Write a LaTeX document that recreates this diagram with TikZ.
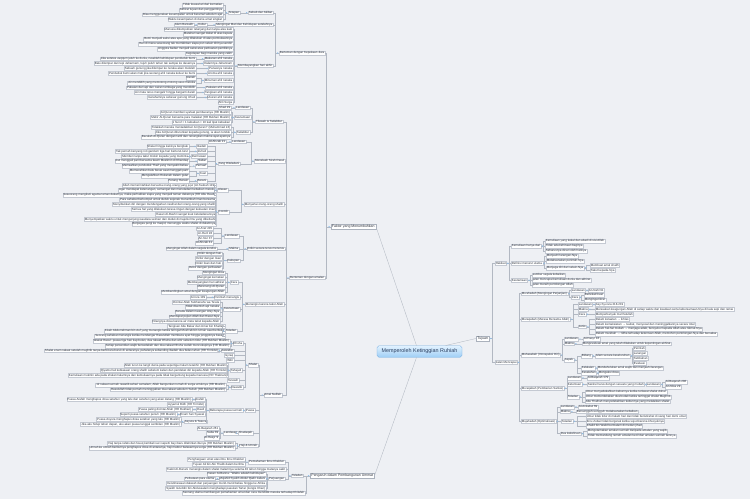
\documentclass[tikz,border=0pt]{standalone}
\usepackage{fontspec}
\setmainfont{Liberation Sans}
\definecolor{bgc}{RGB}{238,240,244}
\definecolor{nodeb}{RGB}{196,201,210}
\definecolor{nodeb2}{RGB}{170,177,188}
\definecolor{conc}{RGB}{178,184,194}
\definecolor{txt}{RGB}{45,50,60}
\definecolor{mkc}{RGB}{140,190,235}
\definecolor{rootb}{RGB}{120,175,225}
\definecolor{roott}{RGB}{225,242,255}
\definecolor{rootbot}{RGB}{158,206,245}
\definecolor{roottxt}{RGB}{40,60,95}
\newcommand\kl[3][3]{\foreach \nn in {#3}{\draw[con] (#2.west) -- ++(-#1,0) |- (\nn.east);}\fill[mk] ([xshift=-1.4pt]#2.west) circle (0.7pt);}
\newcommand\kr[3][3]{\foreach \nn in {#3}{\draw[con] (#2.east) -- ++(#1,0) |- (\nn.west);}\fill[mk] ([xshift=1.4pt]#2.east) circle (0.7pt);}
\begin{document}
\begin{tikzpicture}[x=1pt,y=-1pt,
 lf/.style={draw=nodeb,line width=0.25pt,fill=white,text=txt,font=\fontsize{2.95}{3.2}\selectfont,inner xsep=0.7pt,inner ysep=0.4pt,text height=2.3pt,text depth=0.7pt},
 nl/.style={lf,anchor=east}, nr/.style={lf,anchor=west},
 b1/.style={lf,draw=nodeb2,font=\fontsize{3.5}{4}\selectfont,text height=2.7pt,text depth=0.8pt,inner xsep=1.3pt,inner ysep=0.9pt},
 con/.style={draw=conc,line width=0.35pt},
 mk/.style={fill=mkc},
 rootn/.style={draw=rootb,line width=0.4pt,rounded corners=1.8pt,top color=roott,bottom color=rootbot,text=roottxt,font=\fontsize{5.4}{6}\selectfont,minimum width=85pt,minimum height=11.5pt,inner sep=0pt}]
\fill[bgc] (0,0) rectangle (750,499);
\useasboundingbox (0,0) rectangle (750,499);

\node[rootn] (root) at (419.5,351.5) {Memperoleh Ketinggian Ruhiah};

% ---------------- Faktor yang Menumbuhkan
\node[b1,anchor=east] (fk) at (376,226.7) {Faktor yang Menumbuhkan};
\node[nl] (kj) at (325,53) {Berteman dengan Kepekaan Jiwa};
\node[nl] (ba) at (325,277.7) {Berteman dengan amalan};

\node[nl] (sb) at (273,12.7) {Sebab dan Akibat};
\node[nl] (tp) at (240,12.7) {Tetapan};
\node[nl] (t1) at (223,5) {Tidak kuasa lari dari kematian};
\node[nl] (t2) at (223,9.8) {Akhirat tujuan dan penggantinya};
\node[nl] (t3) at (223,14.6) {Bisa menggunakan kesempatan untuk beramal sebelum ajal};
\node[nl] (t4) at (223,19.4) {Waktu kesempatan di dunia amat singkat};
\node[nl] (mk) at (273,24.7) {Mengingat Mati dan Kehidupan setelahnya};
\node[nl] (ku) at (207,24.7) {Kubur};
\node[nl] (ab) at (194,24.7) {Alam Barzakh};
\node[nl] (mh) at (273,65.7) {Membayangkan hari akhir};
\node[nl] (h0) at (233,29.3) {Manusia dikumpulkan telanjang dan tanpa alas kaki};
\node[nl] (h1) at (233,34) {Matahari sangat dekat di atas kepala};
\node[nl] (h2) at (233,39) {Bumi menjadi saksi atas apa yang dilakukan di atas permukaannya};
\node[nl] (h3) at (233,44) {Hari di mana seseorang tak memikirkan siapa pun selain dirinya sendiri};
\node[nl] (h4) at (233,49) {Anggota badan menjadi saksi atas perbuatan pemiliknya};
\node[nl] (h5) at (233,53.7) {Kegelapan bagi mereka yang zalim};
\node[nl] (g1) at (233,58.7) {Makanan ahli neraka};
\node[nl] (g1a) at (196,58.7) {Jika setetes zaqqum jatuh ke dunia, rusaklah kehidupan penduduk bumi};
\node[nl] (g2) at (233,63.5) {Dalamnya Jahannam};
\node[nl] (g2a) at (196,63.5) {Batu dilempar dari tepi Jahannam, tujuh puluh tahun tak sampai ke dasarnya};
\node[nl] (g3) at (233,68.5) {Panasnya neraka};
\node[nl] (g3a) at (196,68.5) {Sebuah gunung jika dilempar ke neraka akan meleleh};
\node[nl] (g4) at (233,73.3) {Aroma ahli neraka};
\node[nl] (g4a) at (196,73.3) {Penduduk bumi akan mati jika seorang ahli neraka keluar ke bumi};
\node[nl] (g5) at (233,80.5) {Minuman ahli neraka};
\node[nl] (g5a) at (196,78.1) {Nanah};
\node[nl] (g5b) at (196,82.9) {Air mendidih yang memotong-motong usus mereka};
\node[nl] (g6) at (233,87.6) {Pakaian ahli neraka};
\node[nl] (g6a) at (196,87.6) {Pakaian dari api dan cairan tembaga yang mendidih};
\node[nl] (g7) at (233,92.4) {Tangisan ahli neraka};
\node[nl] (g7a) at (196,92.4) {Air mata terus mengalir hingga berganti darah};
\node[nl] (g8) at (233,97.4) {Ukuran ahli neraka};
\node[nl] (g8a) at (196,97.4) {Gerahamnya sebesar gunung Uhud};
\node[nl] (h6) at (233,102.3) {Ahli Surga};

\node[nl] (tf) at (283,121.7) {Tilawah \& Tadabbur};
\node[nl] (tl) at (250,107.7) {Landasan};
\node[nl] (tl1) at (231,107.7) {Shad 29};
\node[nl] (tk) at (251,117.5) {Keutamaan};
\node[nl] (tk1) at (231,112.5) {Al-Quran memberi syafaat pembacanya (HR Muslim)};
\node[nl] (tk2) at (231,117.4) {Mahir Al-Quran bersama para malaikat (HR Bukhari Muslim)};
\node[nl] (tk3) at (231,122.3) {1 huruf = 1 kebaikan = 10 kali lipat kebaikan};
\node[nl] (tb) at (250,132.2) {Tadabbur};
\node[nl] (tb1) at (231,127.3) {Tidakkah mereka mentadabburi Al-Quran? (Muhammad 24)};
\node[nl] (tb2) at (231,132.2) {Jika Al-Quran diturunkan kepada gunung, ia akan tunduk};
\node[nl] (tb3) at (231,137.1) {Bacalah Al-Quran dengan tartil dan renungkan makna ayat-ayatnya};

\node[nl] (ms) at (285,161) {Menelaah Sirah Rasul};
\node[nl] (ml) at (246,141.7) {Landasan};
\node[nl] (ml1) at (226,141.7) {Al-Ahzab 21};
\node[nl] (mp) at (240,163.7) {Yang Diteladani};
\node[nl] (p1) at (207,146.4) {Ibadah};
\node[nl] (p1a) at (189,146.4) {Shalat hingga kakinya bengkak};
\node[nl] (p2) at (207,151.3) {Zuhud};
\node[nl] (p2a) at (189,151.3) {Tak pernah kenyang roti gandum tiga hari berturut-turut};
\node[nl] (p3) at (207,156.2) {Dermawan};
\node[nl] (p3a) at (189,156.2) {Memberi tanpa takut miskin kepada yang meminta};
\node[nl] (p4) at (207,161.1) {Sabar};
\node[nl] (p4a) at (189,161.1) {Ikut menggali parit bersama kaum Muslimin di Khandaq};
\node[nl] (p5) at (207,166) {Pemaaf};
\node[nl] (p5a) at (189,166) {Memaafkan penduduk Thaif yang menyakiti beliau};
\node[nl] (p6) at (207,173.4) {Kuat};
\node[nl] (p6a) at (189,171) {Memecahkan batu besar saat menggali parit};
\node[nl] (p6b) at (189,175.9) {Mengalahkan Rukanah dalam gulat};
\node[nl] (p7) at (207,180.8) {Berani};
\node[nl] (p7a) at (189,180.8) {Perang Hunain};

\node[nl] (mo) at (284,204.3) {Menyertai orang-orang shalih};
\node[nl] (al) at (228,190) {Alasan};
\node[nl] (al1) at (216,185.3) {Allah memerintahkan bersama orang-orang yang jujur (At-Taubah 119)};
\node[nl] (al2) at (216,190.1) {Agar mendapat ketenangan, semangat dan meneladani kebaikan mereka};
\node[nl] (al3) at (216,194.9) {Seseorang mengikuti agama teman dekatnya, maka perhatikan siapa yang menjadi teman dekatnya (HR Abu Daud)};
\node[nl] (ct) at (229,211.8) {Contoh};
\node[nl] (ct1) at (216,199.7) {Para sahabat berkumpul untuk duduk sejenak menambah iman bersama};
\node[nl] (ct2) at (216,204.5) {Menyibukkan diri dengan mendengarkan nasihat dari orang-orang yang shalih};
\node[nl] (ct3) at (216,209.4) {Semua hal yang dilakukan terasa ringan dengan kekuatan iman};
\node[nl] (ct4) at (216,214.3) {Hasan Al-Bashri sangat kuat keteladanannya};
\node[nl] (ct5) at (216,219.2) {Menyempatkan waktu untuk mengunjungi saudara seiman dan duduk di majelis ilmu yang diberkahi};
\node[nl] (ct6) at (216,224.1) {Bergegas pergi ke masjid, menunggu waktu shalat di dalamnya};

\node[nl] (ck) at (285,248.7) {Dzikir secara terus menerus};
\node[nl] (cl) at (239,235.8) {Landasan};
\node[nl] (cl1) at (213,228.5) {Al-A'raf 205};
\node[nl] (cl2) at (213,233.3) {Ar-Ra'd 28};
\node[nl] (cl3) at (213,238.2) {An-Nur 37};
\node[nl] (cl4) at (213,243.1) {Al-Ahzab 41};
\node[nl] (cm) at (239,248.7) {Makna};
\node[nl] (cm1) at (217,248.7) {Mengingat Allah dalam segala kondisi};
\node[nl] (cc) at (240,260.6) {Cakupan};
\node[nl] (cc1) at (222,253.6) {Dzikir dengan hati};
\node[nl] (cc2) at (222,258.4) {Dzikir dengan lisan};
\node[nl] (cc3) at (222,263.2) {Dzikir lisan dan hati};
\node[nl] (cc4) at (222,268) {Dzikir dengan perbuatan};

\node[nl] (mt) at (284,304.3) {Menangis karena takut Allah};
\node[nl] (pr) at (238,282.3) {Cara};
\node[nl] (pr1) at (225,272.7) {Mengingat dosa};
\node[nl] (pr2) at (225,277.5) {Mengingat kematian};
\node[nl] (pr3) at (225,282.3) {Membayangkan hari akhirat};
\node[nl] (pr4) at (225,287.1) {Merenungi Al-Quran};
\node[nl] (pr5) at (225,292) {Membandingkan amal dengan keagungan Allah};
\node[nl] (pn) at (240,297.2) {Perintah menangis};
\node[nl] (pn1) at (206,297.2) {Al-Isra 109};
\node[nl] (pk) at (240,308.8) {Keutamaan};
\node[nl] (pk1) at (220,302.2) {Dicintai Allah Subhanahu wa Ta'ala};
\node[nl] (pk2) at (220,307) {Tidak disentuh api neraka};
\node[nl] (pk3) at (220,311.8) {Berada dalam naungan Arsy-Nya};
\node[nl] (pk4) at (220,316.6) {Mendapat pujian Allah dan Rasul-Nya};
\node[nl] (pk5) at (220,321.4) {Hilangnya dosa karena air mata takut kepada Allah};
\node[nl] (pt) at (237,331) {Teladan};
\node[nl] (pt1) at (225,326.2) {Tangisan Abu Bakar dan Umar bin Khattab};
\node[nl] (pt2) at (225,331) {Kisah Abdurrahman bin Auf yang menangis ketika teringat Mush'ab bin Umair saat berbuka};
\node[nl] (pt3) at (225,335.9) {Seorang sahabat menangis ketika mendengar Rasulullah membaca ayat hingga jenggotnya basah};

\node[nl] (an) at (282,395) {Amal Nafilah};
\node[nl] (sh) at (258,365) {Shalat};
\node[nl] (dh) at (243,343.4) {Dhuha};
\node[nl] (dh1) at (230,341) {Wasiat Rasul: puasa tiga hari tiap bulan, dua rakaat Dhuha dan witir sebelum tidur (HR Bukhari Muslim)};
\node[nl] (dh2) at (230,345.8) {Setiap persendian wajib bersedekah dan dua rakaat Dhuha sudah mencukupinya (HR Muslim)};
\node[nl] (aw) at (234,350.7) {Awwabin};
\node[nl] (aw1) at (219,350.7) {Shalat enam rakaat setelah maghrib tanpa berbicara buruk di antaranya, pahalanya sebanding ibadah dua belas tahun (HR Tirmidzi)};
\node[nl] (is) at (234,355.5) {Isyraq};
\node[nl] (wt) at (234,360.3) {Witir};
\node[nl] (th) at (242,370.3) {Tahajud};
\node[nl] (th1) at (228,365.4) {Allah turun ke langit dunia pada sepertiga malam terakhir (HR Bukhari Muslim)};
\node[nl] (th2) at (228,370.3) {Qiyamul lail kebiasaan orang shalih sebelum kalian dan pendekat diri kepada Allah (HR Tirmidzi)};
\node[nl] (th3) at (228,375.2) {Kemuliaan mukmin ada pada shalat malamnya dan kemuliaannya pada tidak bergantung kepada manusia (HR Thabrani)};
\node[nl] (tr) at (239,380.2) {Tarawih};
\node[nl] (rw) at (243,387.2) {Rawatib};
\node[nl] (rw1) at (226,384.8) {12 rakaat sunnah rawatib sehari semalam, Allah bangunkan rumah di surga untuknya (HR Muslim)};
\node[nl] (rw2) at (226,389.6) {Rasulullah tidak pernah meninggalkan dua rakaat sebelum Subuh (HR Bukhari Muslim)};
\node[nl] (pu) at (255,410.5) {Puasa};
\node[nl] (bp) at (243,410.5) {Beberapa puasa sunnah};
\node[nl] (af) at (205,399.5) {Arafah};
\node[nl] (af1) at (192,399.5) {Puasa Arafah menghapus dosa setahun yang lalu dan setahun yang akan datang (HR Muslim)};
\node[nl] (tg) at (205,404.4) {Ayyamul Bidh (HR Tirmidzi)};
\node[nl] (dd) at (205,409.3) {Daud};
\node[nl] (dd1) at (192,409.3) {Puasa paling dicintai Allah (HR Bukhari)};
\node[nl] (sy) at (205,414.3) {Enam hari Syawal};
\node[nl] (sy1) at (177,414.3) {Seperti puasa setahun penuh (HR Muslim)};
\node[nl] (as) at (207,421.7) {Asyura \& Tasu'a};
\node[nl] (as1) at (181,419.3) {Puasa Asyura menghapus dosa setahun yang lalu (HR Muslim)};
\node[nl] (as2) at (181,424.2) {Jika aku hidup tahun depan, aku akan puasa tanggal sembilan (HR Muslim)};
\node[nl] (sd) at (253,433) {Shadaqah};
\node[nl] (sl) at (238,433) {Landasan};
\node[nl] (sl1) at (219,428.2) {Al-Baqarah 261};
\node[nl] (sl2) at (219,433) {Saba 39};
\node[nl] (sl3) at (219,437.9) {Al-Hasyr 9};
\node[nl] (hu) at (258,445.7) {Haji \& Umrah};
\node[nl] (hu1) at (235,443.2) {Haji tanpa rafats dan fusuq kembali suci seperti bayi baru dilahirkan ibunya (HR Bukhari Muslim)};
\node[nl] (hu2) at (235,448.1) {Umrah ke umrah berikutnya penghapus dosa di antaranya, haji mabrur balasannya surga (HR Bukhari Muslim)};

% ---------------- Pengaruh
\node[b1,anchor=west] (pg) at (310,475.7) {Pengaruh dalam Pembangunan Ummat};
\node[nl] (te) at (303.3,475.7) {Teladan};
\node[nl] (pm) at (285,462) {Pemahaman Ibnu Khaldun};
\node[nl] (pm1) at (245,459.5) {Penghargaan umat atas ilmu Ibnu Khaldun};
\node[nl] (pm2) at (245,464.4) {Tujuan Ali bin Abi Thalib dalam berilmu};
\node[nl] (tz) at (286,469.2) {Tsabit Al-Bunani menangis dalam shalat malamnya selama 40 tahun hingga matanya sakit};
\node[nl] (pj) at (285,478.7) {Perjuangan};
\node[nl] (pj1) at (266,473.9) {Hasan Al-Banna: "Waktu adalah kehidupan"};
\node[nl] (pj2) at (266,478.7) {Mujahid Syaikh Abdul Qadir Jailani};
\node[nl] (pj2a) at (215,478.7) {Perkataan para ulama};
\node[nl] (pj3) at (266,483.5) {Keistimewaan dakwah dan perjuangan murid-murid beliau hingga ke Afrika};
\node[nl] (pj4) at (266,488.3) {Syaikh Izzuddin bin Abdussalam menghadapi pasukan Tartar (Jengis Khan)};
\node[nl] (sg) at (305,493) {Seorang ulama membangun pemahaman umat dan cara mendidik mereka terhadap Khilafah};

% ---------------- Tujuan
\node[b1,anchor=west] (tj) at (476,338.5) {Tujuan};
\node[nr] (hk) at (495,263.3) {Hakikat};
\node[nr] (hm) at (511,246) {Kemuliaan hanya dari};
\node[nr] (hm1) at (545,241.1) {Kemuliaan yang kekal dan abadi di sisi Allah};
\node[nr] (hm2) at (545,246) {Tidak ada kehinaan baginya};
\node[nr] (hm3) at (545,250.9) {Seharusnya dicari oleh hatinya};
\node[nr] (df) at (511,263.3) {Definisi menurut ulama};
\node[nr] (df1) at (546,255.9) {Menjauhi larangan-Nya};
\node[nr] (df2) at (546,260.8) {Melaksanakan perintah-Nya};
\node[nr] (df3) at (546,267.8) {Menjaga diri dari selain-Nya};
\node[nr] (df3a) at (590,265.4) {Membuat amal shalih};
\node[nr] (df3b) at (590,270.2) {Takut kepada-Nya};
\node[nr] (ku2) at (511,280.2) {Keutamaan};
\node[nr] (kt1) at (532,275.1) {sumber segala kebaikan};
\node[nr] (kt2) at (532,279.9) {jalan mencapai kemuliaan dunia dan akhirat};
\node[nr] (kt3) at (532,284.8) {jalan meraih pertolongan Allah};

\node[nr] (jm) at (495,362.3) {Jalan Mencapai};
\node[nr] (mu1) at (521,293.6) {Mu'ahadah (Mengingat Perjanjian)};
\node[nr] (l1) at (571,290.3) {Landasan};
\node[nr] (l1a) at (588,290.3) {An-Nahl 91};
\node[nr] (c1) at (571,297.3) {Cara};
\node[nr] (c1a) at (584,295) {Bertekad kuat};
\node[nr] (c1b) at (584,299.8) {Mengingat ikrar};
\node[nr] (mu2) at (521,319.3) {Muraqabah (Merasa Bersama Allah)};
\node[nr] (l2) at (578,304.5) {Landasan};
\node[nr] (l2a) at (595,304.5) {Asy-Syu'ara 218-219};
\node[nr] (m2) at (578,309.3) {Makna};
\node[nr] (m2a) at (595,309.3) {Merasakan keagungan Allah di setiap waktu dan keadaan serta kebersamaan-Nya di kala sepi dan ramai};
\node[nr] (c2) at (578,314.2) {Cara};
\node[nr] (c2a) at (595,314.2) {Memperbanyak ma'rifatullah};
\node[nr] (j2) at (578,326.7) {Jenis};
\node[nr] (j2a) at (595,319.5) {Dalam ketaatan → ikhlas};
\node[nr] (j2b) at (595,324.3) {Dalam kemaksiatan → taubat, menyesal dan meninggalkannya secara total};
\node[nr] (j2c) at (595,329.1) {Dalam hal-hal mubah → menjaga adab, bersyukur kepada Allah atas nikmat-Nya};
\node[nr] (j2d) at (595,333.9) {Dalam musibah → ridha terhadap ketentuan Allah, memohon pertolongan-Nya dan bersabar};
\node[nr] (mu3) at (521,355) {Muhasabah (Introspeksi Diri)};
\node[nr] (l3) at (564,339) {Landasan};
\node[nr] (l3a) at (583,339) {Al-Hasyr 18};
\node[nr] (m3) at (564,343.7) {Makna};
\node[nr] (m3a) at (582,343.7) {Mengevaluasi amal yang telah dilakukan untuk kepentingan akhirat};
\node[nr] (a3) at (564,360) {Aspek};
\node[nr] (bd) at (581,355.8) {Bidang};
\node[nr] (bda) at (595,355.8) {Islam secara keseluruhan};
\node[nr] (bb1) at (633,348.5) {Perintah};
\node[nr] (bb2) at (633,353.4) {Larangan};
\node[nr] (bb3) at (633,358.3) {Tambahan};
\node[nr] (bb4) at (633,363.2) {Evaluasi};
\node[nr] (kl3) at (581,368) {Kelalaian};
\node[nr] (kl3a) at (597,368) {Mendahulukan amal wajib dan menjauhi larangan};
\node[nr] (ks3) at (581,372.9) {Kesalahan};
\node[nr] (ks3a) at (598,372.9) {Mengakui dosa};
\node[nr] (mu4) at (521,388.3) {Mu'aqabah (Pemberian Sanksi)};
\node[nr] (l4) at (567,377.8) {Landasan};
\node[nr] (l4a) at (587,377.8) {Al-Baqarah 179};
\node[nr] (k4) at (567,384.4) {Ketentuan};
\node[nr] (k4a) at (587,384.4) {Sanksi harus dengan sesuatu yang mubah};
\node[nr] (k4b) at (646,384.4) {Landasan};
\node[nr] (k4c) at (665,381.9) {Al-Baqarah 286};
\node[nr] (k4d) at (665,386.8) {An-Nisa 29};
\node[nr] (e4) at (567,396.9) {Teladan};
\node[nr] (e4a) at (585,392.1) {Umar menyedekahkan kebunnya ketika terlewat shalat Ashar};
\node[nr] (e4b) at (585,396.9) {Umar memerdekakan dua budak ketika tertinggal shalat Maghrib};
\node[nr] (e4c) at (585,401.7) {Abu Thalhah menyedekahkan kebunnya yang melalaikan shalat};
\node[nr] (mu5) at (521,421.2) {Mujahadah (Optimalisasi)};
\node[nr] (l5) at (560,406.8) {Landasan};
\node[nr] (l5a) at (578,406.8) {Al-Ankabut 69};
\node[nr] (m5) at (560,411.7) {Makna};
\node[nr] (m5a) at (576,411.7) {Bersungguh-sungguh melaksanakan kebaikan};
\node[nr] (e5) at (561,421.2) {Teladan};
\node[nr] (e5a) at (586,416.4) {Umar tidak tidur di malam hari dan tidak beristirahat di siang hari demi umat};
\node[nr] (e5b) at (586,421.2) {Ibnu Zubair tidak bergerak ketika sujud karena khusyuknya};
\node[nr] (e5c) at (586,426.1) {Khalid bin Walid bermalam di medan jihad};
\node[nr] (d5) at (560,433.6) {Dua kekeliruan};
\node[nr] (d5a) at (587,431.1) {Mengutamakan amalan sunnah daripada amalan yang wajib};
\node[nr] (d5b) at (587,436) {Tidak memandang remeh amalan kecil dan amalan sunnah lainnya};

% ---------------- connectors
\draw[con] ([xshift=-3pt]root.north) -- (fk.east);
\draw[con] ([xshift=26pt]root.north) -- (tj.west);
\draw[con] ([xshift=-3pt]root.south) -- (pg.east);

\kl[4]{fk}{kj,ba}
\kl[4]{kj}{sb,mk,mh}
\kl[3]{sb}{tp}
\kl[3]{tp}{t1,t2,t3,t4}
\kl[3]{mk}{ku}
\kl[2]{ku}{ab}
\kl[3]{mh}{h0,h1,h2,h3,h4,h5,g1,g2,g3,g4,g5,g6,g7,g8,h6}
\kl[3]{g1}{g1a}
\kl[3]{g2}{g2a}
\kl[3]{g3}{g3a}
\kl[3]{g4}{g4a}
\kl[3]{g5}{g5a,g5b}
\kl[3]{g6}{g6a}
\kl[3]{g7}{g7a}
\kl[3]{g8}{g8a}
\kl[3]{ba}{tf,ms,mo,ck,mt,an}
\kl[3]{tf}{tl,tk,tb}
\kl[3]{tl}{tl1}
\kl[2.5]{tk}{tk1,tk2,tk3}
\kl[3]{tb}{tb1,tb2,tb3}
\kl[3]{ms}{ml,mp}
\kl[3]{ml}{ml1}
\kl[3]{mp}{p1,p2,p3,p4,p5,p6,p7}
\kl[3]{p1}{p1a}
\kl[3]{p2}{p2a}
\kl[3]{p3}{p3a}
\kl[3]{p4}{p4a}
\kl[3]{p5}{p5a}
\kl[3]{p6}{p6a,p6b}
\kl[3]{p7}{p7a}
\kl[3]{mo}{al,ct}
\kl[3]{al}{al1,al2,al3}
\kl[3]{ct}{ct1,ct2,ct3,ct4,ct5,ct6}
\kl[3]{ck}{cl,cm,cc}
\kl[3]{cl}{cl1,cl2,cl3,cl4}
\kl[3]{cm}{cm1}
\kl[3]{cc}{cc1,cc2,cc3,cc4}
\kl[3]{mt}{pr,pn,pk,pt}
\kl[3]{pr}{pr1,pr2,pr3,pr4,pr5}
\kl[3]{pn}{pn1}
\kl[1.5]{pk}{pk1,pk2,pk3,pk4,pk5}
\kl[3]{pt}{pt1,pt2,pt3}
\kl[4]{an}{sh,pu,sd,hu}
\kl[2.5]{sh}{dh,aw,is,wt,th,tr,rw}
\kl[1.5]{dh}{dh1,dh2}
\kl[3]{aw}{aw1}
\kl[3]{th}{th1,th2,th3}
\kl[3]{rw}{rw1,rw2}
\kl[2]{pu}{bp}
\kl[3]{bp}{af,tg,dd,sy,as}
\kl[3]{af}{af1}
\kl[3]{dd}{dd1}
\kl[2]{sy}{sy1}
\kl[3]{as}{as1,as2}
\kl[3]{sd}{sl}
\kl[3]{sl}{sl1,sl2,sl3}
\kl[2]{hu}{hu1,hu2}
\kl[4]{pg}{te,sg}
\kl[3]{te}{pm,tz,pj}
\kl[3]{pm}{pm1,pm2}
\kl[1.5]{pj}{pj1,pj2,pj3,pj4}
\kl[3]{pj2}{pj2a}

\kr[2.5]{tj}{hk,jm}
\kr[3]{hk}{hm,df,ku2}
\kr[2]{hm}{hm1,hm2,hm3}
\kr[1.5]{df}{df1,df2,df3}
\kr[2]{df3}{df3a,df3b}
\kr[2]{ku2}{kt1,kt2,kt3}
\kr[2]{jm}{mu1,mu2,mu3,mu4,mu5}
\kr[1.5]{mu1}{l1,c1}
\kr[2]{l1}{l1a}
\kr[2.5]{c1}{c1a,c1b}
\kr[3]{mu2}{l2,m2,c2,j2}
\kr[2]{l2}{l2a}
\kr[2]{m2}{m2a}
\kr[2]{c2}{c2a}
\kr[3]{j2}{j2a,j2b,j2c,j2d}
\kr[1.5]{mu3}{l3,m3,a3}
\kr[2]{l3}{l3a}
\kr[2]{m3}{m3a}
\kr[3]{a3}{bd,kl3,ks3}
\kr[2]{bd}{bda}
\kr[2]{bda}{bb1,bb2,bb3,bb4}
\kr[2]{kl3}{kl3a}
\kr[2]{ks3}{ks3a}
\kr[3]{mu4}{l4,k4,e4}
\kr[2]{l4}{l4a}
\kr[2]{k4}{k4a}
\kr[2]{k4a}{k4b}
\kr[2]{k4b}{k4c,k4d}
\kr[3]{e4}{e4a,e4b,e4c}
\kr[1.5]{mu5}{l5,m5,e5,d5}
\kr[2]{l5}{l5a}
\kr[2]{m5}{m5a}
\kr[4]{e5}{e5a,e5b,e5c}
\kr[2]{d5}{d5a,d5b}
\end{tikzpicture}
\end{document}
